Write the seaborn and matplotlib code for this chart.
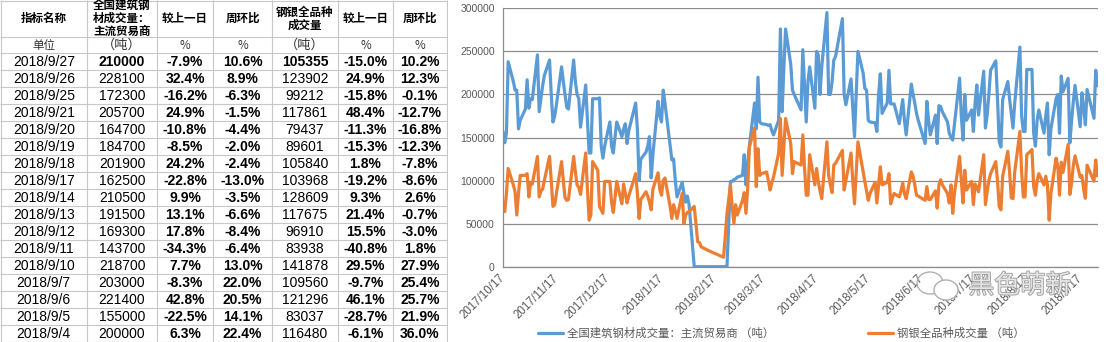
import numpy as np
import pandas as pd
import matplotlib
matplotlib.use("Agg")
import matplotlib.pyplot as plt
import matplotlib.patheffects as pe
from matplotlib.lines import Line2D
from matplotlib.patches import Ellipse
from matplotlib.ticker import FuncFormatter, MultipleLocator
import matplotlib.dates as mdates
import seaborn as sns

# ---------------- table: latest 17 sessions, newest first ----------------
header = ["指标名称", "全国建筑钢\n材成交量：\n主流贸易商", "较上一日", "周环比",
          "钢银全品种\n成交量", "较上一日", "周环比"]
units = ["单位", "（吨）", "%", "%", "（吨）", "%", "%"]
table_dates = ["2018/9/27", "2018/9/26", "2018/9/25", "2018/9/21", "2018/9/20",
               "2018/9/19", "2018/9/18", "2018/9/17", "2018/9/14", "2018/9/13",
               "2018/9/12", "2018/9/11", "2018/9/10", "2018/9/7", "2018/9/6",
               "2018/9/5", "2018/9/4"]
rebar_vol = [210000, 228100, 172300, 205700, 164700, 184700, 201900, 162500, 210500,
             191500, 169300, 143700, 218700, 203000, 221400, 155000, 200000]
rebar_dod = ["-7.9%", "32.4%", "-16.2%", "24.9%", "-10.8%", "-8.5%", "24.2%", "-22.8%",
             "9.9%", "13.1%", "17.8%", "-34.3%", "7.7%", "-8.3%", "42.8%", "-22.5%", "6.3%"]
rebar_wow = ["10.6%", "8.9%", "-6.3%", "-1.5%", "-4.4%", "-2.0%", "-2.4%", "-13.0%",
             "-3.5%", "-6.6%", "-8.4%", "-6.4%", "13.0%", "22.0%", "20.5%", "14.1%", "22.4%"]
banksteel_vol = [105355, 123902, 99212, 117861, 79437, 89601, 105840, 103968, 128609,
                 117675, 96910, 83938, 141878, 109560, 121296, 83037, 116480]
banksteel_dod = ["-15.0%", "24.9%", "-15.8%", "48.4%", "-11.3%", "-15.3%", "1.8%", "-19.2%",
                 "9.3%", "21.4%", "15.5%", "-40.8%", "29.5%", "-9.7%", "46.1%", "-28.7%", "-6.1%"]
banksteel_wow = ["10.2%", "12.3%", "-0.1%", "-12.7%", "-16.8%", "-12.3%", "-7.8%", "-8.6%",
                 "2.6%", "-0.7%", "-3.0%", "1.8%", "27.9%", "25.4%", "25.7%", "21.9%", "36.0%"]

# ---------------- daily series, 2017/10/17 .. 2018/9/3 ----------------
rebar_history = [
    157000, 144000, 155000, 238000, 215000, 205000, 205000, 160000, 170000, 183000, 217000,  # Oct
    184000, 195000, 194000, 246000, 180000, 195000, 210000, 222000, 240000, 200000, 168000,
    175000, 188000, 232000, 215000, 200000, 185000, 183000, 240000, 215000, 200000, 195000,  # Nov
    162000, 211000, 170000, 132000, 132000, 195000, 195000, 196000, 140000, 126000, 140000,
    168000, 140000, 132000, 150000, 168000, 151000, 160000, 166000, 143000, 158000,          # Dec
    190000, 160000, 100000, 125000, 133000, 140000, 151000, 103000, 130000, 192000, 175000,
    168000, 205000, 190000, 140000, 124000, 125000, 100000, 81000, 98000, 85000, 75000,      # Jan
    82000, 72000, 0, 0, 0, 0, 0, 0, 0, 0, 0, 0, 0, 0, 99000, 99000, 101000,                   # Feb
    102000, 104000, 106000, 130000, 95000, 120000, 140000, 190000, 160000, 220000, 168000,
    166000, 165000, 164000, 165000, 158000, 153000, 170000, 276000, 180000, 230000, 276000,  # Mar
    235000, 205000, 200000, 182000, 252000, 210000, 168000, 215000, 232000, 184000, 250000,
    246000, 200000, 232000, 295000, 200000, 200000, 215000, 240000, 244000,                  # Apr
    288000, 200000, 188000, 218000, 185000, 151000, 200000, 250000, 225000, 207000, 205000,
    170000, 168000, 167000, 157000, 200000, 224000, 178000, 190000, 228000, 189000, 189000,  # May
    189000, 166000, 180000, 194000, 170000, 153000, 212000, 200000, 190000, 178000, 170000,
    143000, 192000, 170000, 153000, 176000, 143000, 187000, 186000, 180000,                  # Jun
    168000, 155000, 150000, 147000, 165000, 219000, 175000, 147000, 200000, 170000, 182000,
    157000, 190000, 211000, 176000, 227000, 161000, 176000, 200000, 228000, 239000, 195000,  # Jul
    145000, 139000, 194000, 215000, 195000, 178000, 161000, 190000, 255000, 175000, 157000,
    157000, 229000, 229000, 155000, 140000, 170000, 182000, 155000, 175000, 190000, 130000,
    160000,                                                                                  # Aug
    195000,                                                                                  # Sep 3
]
banksteel_history = [
    75000, 64000, 85000, 114000, 95000, 87000, 60000, 85000, 106000, 106000, 108000,         # Oct
    81000, 97000, 96000, 128000, 81000, 88000, 90000, 100000, 128000, 100000, 70000,
    72000, 85000, 122000, 100000, 80000, 77000, 78000, 128000, 110000, 95000, 92000,         # Nov
    84000, 132000, 90000, 54000, 60000, 122000, 112000, 70000, 66000, 62000, 99000,
    99000, 75000, 63000, 80000, 99000, 73000, 96000, 85000, 74000, 82000,                    # Dec
    108000, 85000, 56000, 78000, 87000, 82000, 75000, 66000, 90000, 109000, 90000,
    83000, 100000, 103000, 70000, 56000, 72000, 65000, 56000, 85000, 50000, 60000,           # Jan
    63000, 64000, 70000, 50000, 29000, 28000, 23000, 21000, 20000, 19000, 18000,
    11000, 35000, 62000, 95000, 70000, 50000,                                                # Feb
    72000, 60000, 77000, 86000, 62000, 90000, 139000, 161000, 93000, 137000, 106000,
    108000, 110000, 100000, 89000, 97000, 104000, 132000, 172000, 106000, 140000, 172000,    # Mar
    143000, 108000, 122000, 118000, 153000, 115000, 83000, 83000, 130000, 95000, 114000,
    99000, 88000, 79000, 145000, 106000, 95000, 86000, 118000, 120000,                       # Apr
    135000, 89000, 100000, 132000, 100000, 73000, 110000, 145000, 110000, 99000, 88000,
    77000, 85000, 98000, 74000, 95000, 116000, 95000, 98000, 108000, 73000, 80000,           # May
    85000, 81000, 88000, 97000, 85000, 79000, 110000, 105000, 95000, 83000, 82000,
    77000, 93000, 78000, 78000, 88000, 68000, 95000, 101000, 95000,                          # Jun
    85000, 74000, 95000, 62000, 85000, 128000, 100000, 74000, 112000, 89000, 99000,
    72000, 96000, 92000, 87000, 130000, 72000, 87000, 100000, 108000, 122000, 100000,        # Jul
    70000, 66000, 105000, 134000, 110000, 80000, 79000, 110000, 157000, 110000, 81000,
    81000, 130000, 136000, 93000, 83000, 100000, 108000, 95000, 105000, 95000, 54000,
    85000,                                                                                   # Aug
    126000,                                                                                  # Sep 3
]

# trading calendar: weekdays minus holidays, plus weekend make-up sessions
holidays = ["2018-01-01", "2018-02-15", "2018-02-16", "2018-02-19", "2018-02-20",
            "2018-02-21", "2018-04-05", "2018-04-06", "2018-04-30", "2018-05-01",
            "2018-06-18", "2018-09-24"]
makeup_days = ["2018-02-11", "2018-02-24", "2018-04-08", "2018-04-28"]
sessions = (pd.bdate_range("2017-10-17", "2018-09-27")
            .drop(pd.to_datetime(holidays))
            .union(pd.to_datetime(makeup_days)))

series_names = ["全国建筑钢材成交量：主流贸易商 （吨）", "钢银全品种成交量 （吨）"]
rebar_series = rebar_history + rebar_vol[::-1]
banksteel_series = banksteel_history + banksteel_vol[::-1]

df = pd.concat([
    pd.DataFrame({"日期": sessions, "成交量": rebar_series, "指标": series_names[0]}),
    pd.DataFrame({"日期": sessions, "成交量": banksteel_series, "指标": series_names[1]}),
], ignore_index=True)

# ---------------- styling ----------------
sns.set_style("white")
plt.rcParams["font.family"] = ["Liberation Sans", "Noto Sans CJK SC", "DejaVu Sans"]
CJK = ["Noto Sans CJK SC", "DejaVu Sans"]
BLUE, ORANGE = "#5B9BD5", "#ED7D31"
GRID, LABEL, CELL = "#8c8c8c", "#595959", "#c8c8c8"

W, H = 1106, 342
fig = plt.figure(figsize=(W / 100, H / 100), dpi=100)

# ---------------- line chart ----------------
ax = fig.add_axes([503 / W, 1 - 266.7 / H, (1098 - 503) / W, (266.7 - 8.3) / H])
sns.lineplot(data=df, x="日期", y="成交量", hue="指标", hue_order=series_names,
             palette=[BLUE, ORANGE], linewidth=2.3, estimator=None, legend=False, ax=ax)
ax.set_ylim(0, 300000)
ax.set_xlim(mdates.date2num(pd.Timestamp("2017-10-17")),
            mdates.date2num(pd.Timestamp("2018-09-27 08:00")))
ax.yaxis.set_major_locator(MultipleLocator(50000))
ax.yaxis.set_major_formatter(FuncFormatter(lambda v, p: f"{int(v)}"))
ax.xaxis.set_major_locator(mdates.MonthLocator(bymonthday=17))
ax.xaxis.set_major_formatter(FuncFormatter(
    lambda v, p: (lambda d: f"{d.year}/{d.month}/{d.day}")(mdates.num2date(v))))
ax.set_xlabel("")
ax.set_ylabel("")
ax.grid(axis="y", color=GRID, linewidth=0.9)
ax.grid(axis="x", visible=False)
ax.set_axisbelow(True)
for side in ("top", "right"):
    ax.spines[side].set_visible(False)
for side in ("left", "bottom"):
    ax.spines[side].set_color(GRID)
    ax.spines[side].set_linewidth(0.9)
ax.tick_params(axis="y", length=0, pad=6, labelsize=7.5, labelcolor=LABEL)
ax.tick_params(axis="x", direction="out", length=4, width=0.9, color=GRID, pad=3,
               labelsize=8.3, labelcolor=LABEL)
for lab in ax.get_xticklabels():
    lab.set_rotation(45)
    lab.set_ha("right")
    lab.set_va("center")
    lab.set_rotation_mode("anchor")

handles = [Line2D([], [], color=BLUE, linewidth=2.3), Line2D([], [], color=ORANGE, linewidth=2.3)]
fig.legend(handles, series_names, loc="center", bbox_to_anchor=(781 / W, 1 - 333 / H),
           ncol=2, frameon=False, handlelength=2.2, handletextpad=0.35, columnspacing=8.2,
           prop={"family": CJK, "size": 8.2}, labelcolor=LABEL)

# watermark
fig.text(1020 / W, 1 - 286 / H, "黑色萌新", family=CJK, fontsize=18.5, color="#e6e6e6",
         ha="center", va="center",
         path_effects=[pe.withStroke(linewidth=1.2, foreground="#9a9a9a")])
fig.patches.append(Ellipse((930 / W, 1 - 283 / H), 26 / W, 22 / H, transform=fig.transFigure,
                           fill=False, edgecolor="#b0b0b0", linewidth=1.0))
fig.patches.append(Ellipse((946 / W, 1 - 290 / H), 24 / W, 20 / H, transform=fig.transFigure,
                           facecolor="white", edgecolor="#b0b0b0", linewidth=1.0))

# ---------------- data table ----------------
tx = fig.add_axes([0, 0, 448 / W, 1])
tx.set_xlim(0, 448)
tx.set_ylim(H, 0)
tx.axis("off")
col_edges = [0.5, 87, 157, 213, 272, 338, 393, 447]
row_h = 17.0
row_edges = [0.5, 36.7, 53.3] + [53.3 + row_h * (i + 1) for i in range(len(table_dates))]
tx.vlines(col_edges, 0, H, colors=CELL, linewidth=0.8)
tx.hlines(row_edges, 0, col_edges[-1], colors=CELL, linewidth=0.8)
centers = [(a + b) / 2 for a, b in zip(col_edges[:-1], col_edges[1:])]

for cx, txt in zip(centers, header):
    tx.text(cx, 18.6, txt, family=CJK, fontsize=8.3, fontweight="bold", ha="center",
            va="center", linespacing=1.0, color="black")
for cx, txt in zip(centers, units):
    size = 9.5 if txt.startswith("（") else 8.3
    tx.text(cx, 45.3, txt, family=CJK, fontsize=size, ha="center", va="center", color="#333333")

for i, d in enumerate(table_dates):
    cy = 53.3 + row_h * i + row_h / 2
    first = i == 0
    cells = [(d, "normal"),
             (str(rebar_vol[i]), "bold" if first else "normal"),
             (rebar_dod[i], "bold"), (rebar_wow[i], "bold"),
             (str(banksteel_vol[i]), "bold" if first else "normal"),
             (banksteel_dod[i], "bold"), (banksteel_wow[i], "bold")]
    for cx, (txt, wt) in zip(centers, cells):
        tx.text(cx, cy + 0.5, txt, fontsize=10, fontweight=wt, ha="center",
                va="center", color="black", family="Liberation Sans")

fig.savefig("out.png", dpi=100, facecolor="white")
